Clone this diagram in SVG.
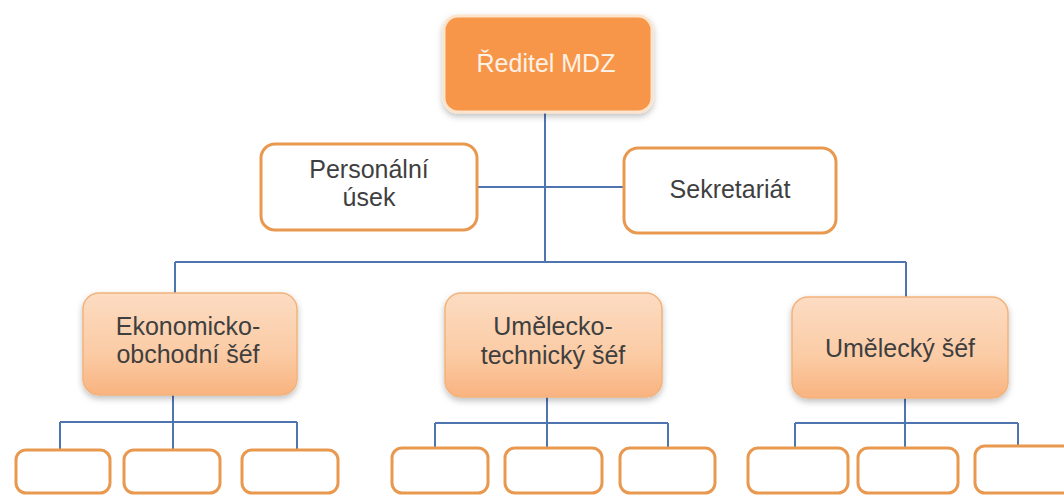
<svg xmlns="http://www.w3.org/2000/svg" width="1064" height="497" viewBox="0 0 1064 497">
<style>
.t{font-family:"Liberation Sans",Arial,sans-serif;font-size:25px;fill:#3f3f3f;text-anchor:middle}
.tw{fill:#fdf1e6}
.wb{fill:#ffffff;stroke:#e9994f;stroke-width:3}
.ob{fill:url(#og);stroke:#f2b27a;stroke-width:1.5}
.top{fill:#f7964a;stroke:#fbe3cc;stroke-width:3}
.c{stroke:#4f75b0;stroke-width:2;fill:none}
</style>
<defs>
<linearGradient id="og" x1="0" y1="0" x2="0" y2="1">
<stop offset="0" stop-color="#fcdcc3"/>
<stop offset="0.6" stop-color="#fbcba4"/>
<stop offset="1" stop-color="#f9b380"/>
</linearGradient>
<filter id="sh" x="-10%" y="-10%" width="120%" height="130%">
<feDropShadow dx="0" dy="3" stdDeviation="3" flood-color="#000" flood-opacity="0.25"/>
</filter>
</defs>
<rect width="1064" height="497" fill="#ffffff"/>
<g id="connectors">
<path class="c" d="M545 112 V262"/>
<path class="c" d="M478 187 H623"/>
<path class="c" d="M175 262 H906"/>
<path class="c" d="M175 262 V293"/>
<path class="c" d="M906 262 V297"/>
<path class="c" d="M173 395 V422 M60 422 H297 M60 422 V450 M173 422 V450 M297 422 V450"/>
<path class="c" d="M547 397 V423 M435 423 H668 M435 423 V448 M547 423 V448 M668 423 V448"/>
<path class="c" d="M905 398 V423 M795 423 H1018 M795 423 V448 M905 423 V448 M1018 423 V446"/>
</g>
<g id="reditel">
<rect class="top" x="444" y="16" width="208" height="96" rx="14" filter="url(#sh)"/>
<text class="t tw" x="546" y="72">Ředitel MDZ</text>
</g>
<g id="personalni">
<rect class="wb" x="261" y="144" width="216" height="86" rx="14"/>
<text class="t" x="369" y="178">Personální</text>
<text class="t" x="369" y="206">úsek</text>
</g>
<g id="sekretariat">
<rect class="wb" x="624" y="148" width="212" height="85" rx="14"/>
<text class="t" x="730" y="198">Sekretariát</text>
</g>
<g id="ekonom">
<rect class="ob" x="83" y="293" width="214" height="102" rx="16" filter="url(#sh)"/>
<text class="t" x="188" y="335">Ekonomicko-</text>
<text class="t" x="188" y="363">obchodní šéf</text>
</g>
<g id="umtech">
<rect class="ob" x="445" y="293" width="217" height="104" rx="16" filter="url(#sh)"/>
<text class="t" x="553" y="335">Umělecko-</text>
<text class="t" x="553" y="364">technický šéf</text>
</g>
<g id="umel">
<rect class="ob" x="792" y="297" width="216" height="101" rx="16" filter="url(#sh)"/>
<text class="t" x="900" y="357">Umělecký šéf</text>
</g>
<g id="e1"><rect class="wb" x="16" y="450" width="94" height="43" rx="10"/></g>
<g id="e2"><rect class="wb" x="124" y="450" width="96" height="43" rx="10"/></g>
<g id="e3"><rect class="wb" x="242" y="450" width="96" height="43" rx="10"/></g>
<g id="t1"><rect class="wb" x="392" y="448" width="96" height="45" rx="10"/></g>
<g id="t2"><rect class="wb" x="505" y="448" width="97" height="45" rx="10"/></g>
<g id="t3"><rect class="wb" x="620" y="448" width="95" height="45" rx="10"/></g>
<g id="u1"><rect class="wb" x="748" y="448" width="100" height="45" rx="10"/></g>
<g id="u2"><rect class="wb" x="858" y="448" width="100" height="45" rx="10"/></g>
<g id="u3"><rect class="wb" x="975" y="446" width="100" height="47" rx="10"/></g>
</svg>
